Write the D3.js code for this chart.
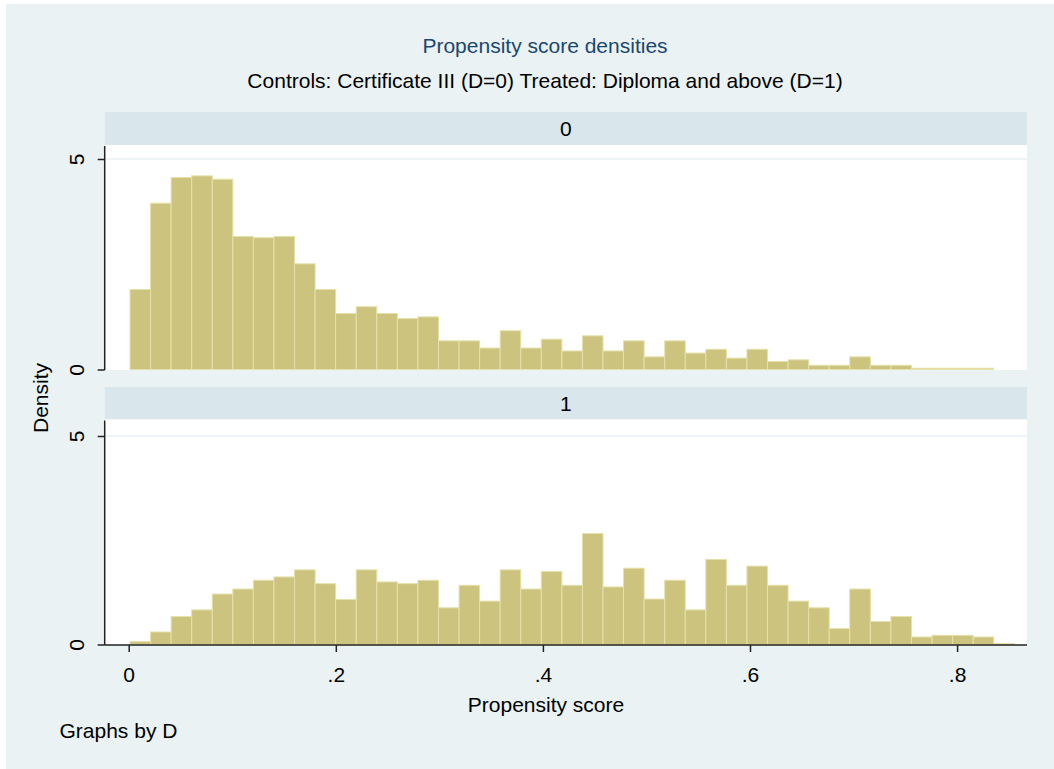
<!DOCTYPE html>
<html>
<head>
<meta charset="utf-8">
<script src="https://cdn.jsdelivr.net/npm/d3@7"></script>
<style>
  body { margin: 0; background: #ffffff; }
  svg text { font-family: "Liberation Sans", Arial, sans-serif; }
</style>
</head>
<body>
<svg id="chart" width="1054" height="769"></svg>
<script>
// histogram bins (same bins for both groups)
const binStart = 0.00126;
const binWidth = 0.01986;

// density per bin, D=0 (controls)
const densityControls = [
    1.90, 3.95, 4.56, 4.60, 4.52, 3.16, 3.13, 3.16, 2.51, 1.90,
    1.33, 1.49, 1.33, 1.21, 1.25, 0.68, 0.68, 0.51, 0.92, 0.51,
    0.72, 0.44, 0.80, 0.44, 0.68, 0.30, 0.68, 0.39, 0.48, 0.27,
    0.48, 0.19, 0.23, 0.10, 0.10, 0.30, 0.10, 0.10, 0.03, 0.03,
    0.03, 0.03, 0
];

// density per bin, D=1 (treated)
const densityTreated = [
    0.07, 0.30, 0.67, 0.83, 1.21, 1.33, 1.54, 1.62, 1.79, 1.46,
    1.08, 1.79, 1.50, 1.46, 1.54, 0.88, 1.42, 1.04, 1.79, 1.33,
    1.75, 1.42, 2.66, 1.38, 1.83, 1.09, 1.54, 0.83, 2.04, 1.42,
    1.88, 1.42, 1.04, 0.88, 0.38, 1.33, 0.55, 0.67, 0.18, 0.22,
    0.22, 0.18, 0.02
];

const panelLabels = ["0", "1"];
const xTicks = [0, 0.2, 0.4, 0.6, 0.8];
const yTicks = [0, 5];

const titleText = "Propensity score densities";
const subtitleText = "Controls: Certificate III (D=0) Treated: Diploma and above (D=1)";
const xTitle = "Propensity score";
const yTitle = "Density";
const noteText = "Graphs by D";

const svg = d3.select("#chart");

// graph region background
svg.append("rect")
   .attr("x", 6).attr("y", 4)
   .attr("width", 1048).attr("height", 765)
   .attr("fill", "#eaf2f3");

const plotLeft = 104.7;
const plotRight = 1027;

const x = d3.scaleLinear()
            .domain([0, 0.8])
            .range([128.7, 957.1]);

// panel layout: strip, plot area, y scale range
const panels = [
    { label: panelLabels[0], data: densityControls, stripTop: 112, plotTop: 145, plotBottom: 370, y0: 369.5, y5: 159, xAxis: false },
    { label: panelLabels[1], data: densityTreated, stripTop: 387, plotTop: 419.5, plotBottom: 645, y0: 644.5, y5: 436, xAxis: true }
];

const fontSize = 21;

panels.forEach(p => {
    const y = d3.scaleLinear()
                .domain([0, 5])
                .range([p.y0, p.y5]);

    // strip with group label
    svg.append("rect")
       .attr("x", plotLeft).attr("y", p.stripTop)
       .attr("width", plotRight - plotLeft)
       .attr("height", p.plotTop - p.stripTop)
       .attr("fill", "#d9e6eb");

    svg.append("text")
       .attr("x", (plotLeft + plotRight) / 2)
       .attr("y", (p.stripTop + p.plotTop) / 2 + 7.5)
       .attr("text-anchor", "middle")
       .attr("font-size", fontSize)
       .attr("fill", "#000")
       .text(p.label);

    // plot region
    svg.append("rect")
       .attr("x", plotLeft).attr("y", p.plotTop)
       .attr("width", plotRight - plotLeft)
       .attr("height", p.plotBottom - p.plotTop)
       .attr("fill", "#ffffff");

    // grid line at 5
    svg.append("line")
       .attr("x1", plotLeft).attr("x2", plotRight)
       .attr("y1", y(5)).attr("y2", y(5))
       .attr("stroke", "#eaf2f3")
       .attr("stroke-width", 1.5);

    // bars
    const bins = p.data.map((d, i) => ({
        x0: binStart + i * binWidth,
        x1: binStart + (i + 1) * binWidth,
        density: d
    })).filter(b => b.density > 0);

    svg.append("g")
       .selectAll("rect")
       .data(bins)
       .enter().append("rect")
       .attr("x", d => x(d.x0))
       .attr("y", d => y(d.density))
       .attr("width", d => x(d.x1) - x(d.x0))
       .attr("height", d => y(0) - y(d.density))
       .attr("fill", "#cbc37e")
       .attr("stroke", "#e6e0aa")
       .attr("stroke-width", 1);

    // y axis
    const yAxis = svg.append("g")
       .attr("transform", `translate(${plotLeft},0)`)
       .call(d3.axisLeft(y).tickValues(yTicks).tickSize(7).tickSizeOuter(0).tickFormat(d3.format("d")));

    yAxis.select(".domain")
         .attr("d", `M0,${p.plotTop + 1}V${p.plotBottom}`);

    yAxis.selectAll("text")
         .attr("x", 0)
         .attr("y", -21)
         .attr("dy", 0)
         .attr("transform", "rotate(-90)")
         .attr("text-anchor", "middle")
         .attr("font-size", fontSize)
         .attr("font-family", null)
         .attr("fill", "#000");

    if (p.xAxis) {
        const xAxis = svg.append("g")
           .attr("transform", `translate(0,${p.plotBottom})`)
           .call(d3.axisBottom(x)
                   .tickValues(xTicks)
                   .tickSize(7)
                   .tickSizeOuter(0)
                   .tickFormat(d => d === 0 ? "0" : d3.format(".1f")(d).replace(/^0/, "")));

        xAxis.select(".domain")
             .attr("d", `M${plotLeft},0H${plotRight}`);

        xAxis.selectAll("text")
             .attr("y", 37)
             .attr("dy", 0)
             .attr("font-size", fontSize)
             .attr("font-family", null)
             .attr("fill", "#000");
    }
});

// axis line styling
svg.selectAll(".domain, .tick line")
   .attr("stroke", "#222")
   .attr("stroke-width", 1.5);

// titles
svg.append("text")
   .attr("x", 545).attr("y", 53)
   .attr("text-anchor", "middle")
   .attr("font-size", fontSize)
   .attr("fill", "#1a476f")
   .text(titleText);

svg.append("text")
   .attr("x", 545).attr("y", 88)
   .attr("text-anchor", "middle")
   .attr("font-size", fontSize)
   .attr("fill", "#000")
   .text(subtitleText);

svg.append("text")
   .attr("x", 546).attr("y", 711.5)
   .attr("text-anchor", "middle")
   .attr("font-size", fontSize)
   .attr("fill", "#000")
   .text(xTitle);

svg.append("text")
   .attr("transform", "translate(48,398) rotate(-90)")
   .attr("text-anchor", "middle")
   .attr("font-size", fontSize)
   .attr("fill", "#000")
   .text(yTitle);

svg.append("text")
   .attr("x", 59.5).attr("y", 738)
   .attr("font-size", fontSize)
   .attr("fill", "#000")
   .text(noteText);
</script>
</body>
</html>
